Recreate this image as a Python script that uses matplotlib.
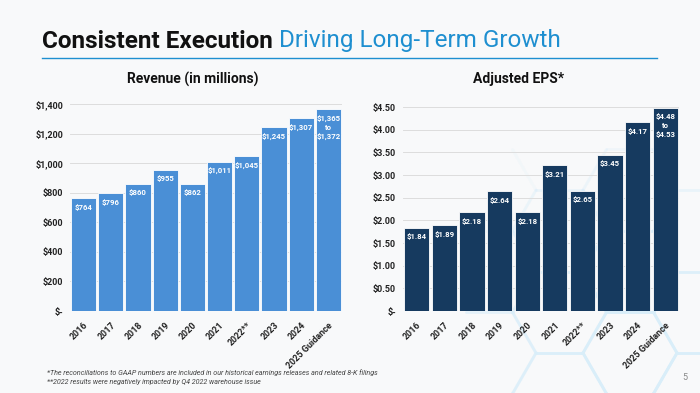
import matplotlib
matplotlib.use("Agg")
import matplotlib.pyplot as plt
import numpy as np

years = ["2016", "2017", "2018", "2019", "2020", "2021", "2022**", "2023", "2024", "2025 Guidance"]
revenue = [764, 796, 860, 955, 862, 1011, 1045, 1245, 1307, 1365]
revenue_labels = ["$764", "$796", "$860", "$955", "$862", "$1,011", "$1,045", "$1,245", "$1,307", "$1,365\nto\n$1,372"]
eps = [1.84, 1.89, 2.18, 2.64, 2.18, 3.21, 2.65, 3.45, 4.17, 4.48]
eps_labels = ["$1.84", "$1.89", "$2.18", "$2.64", "$2.18", "$3.21", "$2.65", "$3.45", "$4.17", "$4.48\nto\n$4.53"]
rev_ticks = [0, 200, 400, 600, 800, 1000, 1200, 1400]
rev_ticklabels = ["$-", "$200", "$400", "$600", "$800", "$1,000", "$1,200", "$1,400"]
eps_ticks = [0, 0.5, 1.0, 1.5, 2.0, 2.5, 3.0, 3.5, 4.0, 4.5]
eps_ticklabels = ["$-", "$0.50", "$1.00", "$1.50", "$2.00", "$2.50", "$3.00", "$3.50", "$4.00", "$4.50"]

plt.rcParams['font.family'] = ['Roboto', 'DejaVu Sans']
W, H = 700, 393
bg = "#F8F9FA"
fig = plt.figure(figsize=(7, 3.93), dpi=100, facecolor=bg)

def fx(x): return x / W
def fy(y): return 1 - y / H

# faint honeycomb background decoration (bottom-right)
s = 47.0
cx0, cy0 = 630.0, 353.0
for i in range(-4, 3):
    for j in range(-8, 4):
        if (i + j) % 2:
            continue
        cx = cx0 + 1.5 * s * i
        cy = cy0 + (np.sqrt(3) / 2) * s * j
        ang = np.deg2rad(np.arange(0, 361, 60))
        px = cx + s * np.cos(ang)
        py = cy + s * np.sin(ang)
        for k in range(6):
            mx = (px[k] + px[k + 1]) / 2
            my = (py[k] + py[k + 1]) / 2
            d = np.hypot(mx - 640, my - 370)
            a = max(0.0, 1 - d / 250.0)
            if a <= 0.05 or mx < 480:
                continue
            fig.add_artist(plt.Line2D([fx(px[k]), fx(px[k + 1])], [fy(py[k]), fy(py[k + 1])],
                                      color="#D9EEF9", lw=2.0, alpha=min(1, a * 1.1), zorder=-5,
                                      solid_capstyle="round"))

# Title
t1 = fig.text(fx(42), fy(41), "Consistent Execution", fontsize=17.5, fontweight="bold", color="#111111", va="center", ha="left")
fig.canvas.draw()
bb = t1.get_window_extent()
fig.text(bb.x1 / W + 6 / W, fy(41), "Driving Long-Term Growth", fontsize=17.5, color="#1E8FD0", va="center", ha="left")
fig.add_artist(plt.Line2D([fx(42), fx(657)], [fy(58), fy(58)], color="#1E8FD0", lw=1.0))

fig.text(fx(192.5), fy(79), "Revenue (in millions)", fontsize=10, fontweight="bold", ha="center", va="center", color="#111111")
fig.text(fx(518.7), fy(79), "Adjusted EPS*", fontsize=10, fontweight="bold", ha="center", va="center", color="#111111")

def make_ax(left, right, top, bottom, vals, labels, ticks, ticklabels, ymax, color):
    ax = fig.add_axes([fx(left), fy(bottom), fx(right - left), (bottom - top) / H])
    ax.set_facecolor("none")
    x = range(len(years))
    ax.bar(x, vals, width=0.92, color=color, edgecolor="white", linewidth=0.6, zorder=3)
    ax.set_xlim(-0.5, len(years) - 0.5)
    ax.set_ylim(0, ymax)
    ax.set_yticks(ticks)
    ax.set_yticklabels(ticklabels, fontsize=6.5, fontweight="bold", color="#222222")
    ax.set_xticks(list(x))
    ax.set_xticklabels(years, rotation=45, ha="right", rotation_mode="anchor", fontsize=6.5, fontweight="bold", color="#222222")
    ax.tick_params(axis="y", length=0, pad=5)
    ax.tick_params(axis="x", length=0, pad=7)
    ax.grid(axis="y", color="#DDDDDD", lw=0.7, zorder=0)
    for sp in ax.spines.values():
        sp.set_visible(False)
    ax.axhline(0, color="#CCCCCC", lw=0.7, zorder=2)
    for i, (v, lab) in enumerate(zip(vals, labels)):
        ax.annotate(lab, (i, v), xytext=(0, -4), textcoords="offset points", ha="center", va="top",
                    fontsize=5.6, fontweight="bold", color="white", linespacing=1.3, zorder=4)
    return ax

make_ax(70, 342, 104, 311, revenue, revenue_labels, rev_ticks, rev_ticklabels, 1400, "#4A8FD6")
make_ax(403, 679, 107, 311, eps, eps_labels, eps_ticks, eps_ticklabels, 4.5, "#163A5F")

fig.text(fx(47), fy(372.5), "*The reconciliations to GAAP numbers are included in our historical earnings releases and related 8-K filings",
         fontsize=5.1, style="italic", color="#444444", va="center")
fig.text(fx(47), fy(381.7), "**2022 results were negatively impacted by Q4 2022 warehouse issue",
         fontsize=5.1, style="italic", color="#444444", va="center")
fig.text(fx(685), fy(378), "5", fontsize=6.5, color="#888888", va="center", ha="center")

fig.savefig("out.png", dpi=100, facecolor=bg)
